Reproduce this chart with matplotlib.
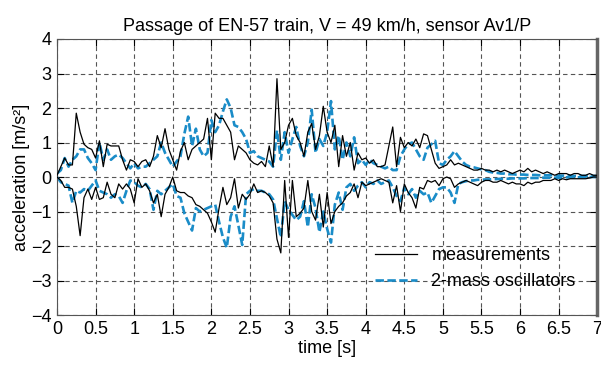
import matplotlib
matplotlib.use('Agg')
import matplotlib.pyplot as plt
import numpy as np

plt.rcParams['font.family'] = ['Liberation Sans', 'DejaVu Sans']

# sampling grid of the envelopes [s]
time = np.round(np.arange(141) * 0.05, 2)

# measurements, upper / lower envelope [m/s^2]
meas_upper = [
    0.05, 0.3, 0.55, 0.35, 0.35, 1.85, 1.3, 0.95, 0.85, 0.8,
    0.55, 1.05, 0.3, 0.95, 0.9, 0.9, 0.9, 0.5, 0.2, 0.5,
    0.45, 0.3, 0.45, 0.5, 0.3, 0.6, 1.2, 0.85, 1.4, 0.8,
    0.5, 0.2, 0.75, 1.0, 0.5, 0.8, 0.9, 1.0, 1.1, 1.7,
    0.5, 1.85, 1.7, 1.7, 1.5, 1.3, 0.5, 0.9, 0.8, 0.7,
    0.5, 0.4, 0.35, 0.45, 0.3, 0.9, 0.3, 2.85, 0.8, 1.0,
    1.5, 1.7, 1.2, 1.0, 0.6, 1.3, 1.55, 0.8, 1.2, 2.05,
    1.3, 1.0, 1.5, 0.3, 1.2, 0.6, 1.0, 0.2, 0.7, 0.5,
    0.55, 0.4, 0.5, 0.3, 0.3, 0.35, 0.9, 1.45, 0.3, 1.15,
    0.85, 1.0, 0.9, 1.1, 0.85, 1.25, 1.2, 0.8, 0.4, 0.25,
    0.3, 0.35, 0.5, 0.35, 0.4, 0.35, 0.3, 0.25, 0.2, 0.2,
    0.25, 0.2, 0.2, 0.15, 0.2, 0.15, 0.2, 0.15, 0.1, 0.15,
    0.2, 0.15, 0.25, 0.15, 0.2, 0.15, 0.1, 0.15, 0.1, 0.05,
    0.1, 0.1, 0.1, 0.05, 0.1, 0.1, 0.05, 0.05, 0.1, 0.05,
    0.05]
meas_lower = [
    0.0, -0.1, -0.3, -0.3, -0.35, -0.85, -1.7, -0.6, -0.35, -0.65,
    -0.3, -0.65, -0.6, -0.15, -0.5, -0.6, -0.2, -0.35, -0.2, -0.35,
    -0.75, -0.05, -0.3, -0.2, -0.4, -0.75, -0.5, -1.15, -0.5, -0.3,
    0.0, -0.4, -0.45, -0.45, -0.55, -0.6, -0.8, -0.85, -0.95, -1.05,
    -1.3, -1.6, -0.9, -0.3, -0.8, -0.6, -0.05, -0.9, -0.5, -0.65,
    -0.5, -0.2, -0.45, -0.4, -0.45, -0.55, -0.75, -1.8, -2.2, -0.1,
    -1.75, -0.1, -1.15, -1.05, -0.9, -0.1, -1.0, -1.25, -0.5, -1.45,
    -0.45, -1.35, -1.0, -0.85, -0.75, -0.55, -0.45, -0.2, -0.6, -0.15,
    -0.25, -0.2, -0.15, -0.1, -0.05, -0.1, -0.15, -0.75, -0.25, -1.0,
    -0.2, -0.45, -0.6, -0.9, -0.3, -0.35, -0.1, -0.15, -0.1, -0.25,
    -0.05, 0.0, -0.05, -0.3, -0.2, -0.15, -0.1, -0.15, -0.2, -0.25,
    -0.15, -0.1, -0.1, -0.15, -0.15, -0.1, -0.15, -0.2, -0.15, -0.2,
    -0.2, -0.25, -0.15, -0.2, -0.15, -0.15, -0.1, -0.1, -0.1, -0.05,
    -0.1, -0.05, -0.08, -0.05, -0.05, -0.05, -0.05, -0.05, -0.03, 0.0,
    0.0]

# 2-mass oscillators model, upper / lower envelope [m/s^2]
model_upper = [
    0.1, 0.2, 0.55, 0.3, 0.5, 0.6, 0.8, 0.8, 0.55, 0.4,
    0.2, 1.0, 0.5, 0.8, 0.5, 0.6, 0.65, 0.55, 0.4, 0.25,
    0.4, 0.25, 0.3, 0.3, 0.4, 0.5, 0.6, 1.0, 0.7, 0.5,
    0.3, 0.45, 0.6, 1.25, 1.75, 0.9, 1.4, 0.8, 0.6, 0.7,
    1.65, 1.3, 1.5, 1.9, 2.25, 2.0, 1.5, 1.45, 1.3, 1.1,
    0.7, 0.75, 0.6, 0.55, 0.5, 0.45, 0.3, 1.35, 0.5, 1.3,
    0.7, 1.1, 1.45, 0.9, 0.6, 1.0, 1.95, 0.7, 1.1, 0.9,
    1.3, 2.2, 0.8, 1.2, 0.5, 1.0, 0.6, 1.15, 0.4, 0.5,
    0.35, 0.5, 0.4, 0.35, 0.3, 0.25, 0.3, 0.2, 0.2, 0.6,
    0.8, 0.95, 1.0, 0.8, 0.6, 0.5, 0.85, 0.95, 1.05, 0.4,
    0.35, 0.5, 0.6, 0.75, 0.6, 0.45, 0.35, 0.3, 0.28, 0.25,
    0.22, 0.2, 0.15, 0.13, 0.12, 0.1, 0.1, 0.08, 0.08, 0.07,
    0.07, 0.07, 0.06, 0.06, 0.06, 0.05, 0.05, 0.05, 0.05, 0.05,
    0.04, 0.04, 0.04, 0.04, 0.03, 0.03, 0.03, 0.03, 0.03, 0.03,
    0.03]
model_lower = [
    0.0, -0.15, -0.2, -0.25, -0.75, -0.4, -0.45, -0.35, -0.4, -0.25,
    -0.1, -0.4, -0.45, -0.5, -0.6, -0.5, -0.55, -0.75, -0.4, -0.1,
    -0.15, -0.25, -0.3, -0.2, -0.35, -0.95, -0.4, -0.5, -0.4, -0.3,
    -0.2, -0.55, -0.6, -1.05, -1.3, -1.55, -0.9, -1.0, -0.95, -0.9,
    -0.85, -0.8, -1.3, -1.75, -2.05, -1.15, -0.85, -1.4, -1.97, -0.5,
    -0.4, -0.35, -0.4, -0.4, -0.45, -0.5, -0.65, -1.2, -1.75, -0.7,
    -0.95, -1.1, -1.25, -1.15, -0.7, -1.45, -0.5, -0.9, -1.6, -1.0,
    -1.5, -1.9, -0.8, -0.45, -0.95, -0.3, -0.2, -0.4, -0.25, -0.15,
    -0.3, -0.15, -0.2, -0.1, -0.2, -0.15, -0.1, -0.3, -0.55, -0.7,
    -0.3, -0.5, -0.35, -0.6, -0.4, -0.5, -0.45, -0.75, -0.55, -0.35,
    -0.3, -0.3, -0.45, -0.75, -0.2, -0.15, -0.12, -0.1, -0.1, -0.08,
    -0.08, -0.07, -0.07, -0.06, -0.06, -0.05, -0.05, -0.05, -0.04, -0.04,
    -0.04, -0.04, -0.03, -0.03, -0.03, -0.03, -0.02, -0.02, -0.02, -0.02,
    -0.02, -0.02, -0.01, -0.01, -0.01, -0.01, 0.0, 0.0, 0.0, 0.0,
    0.0]

xticks = [0, 0.5, 1, 1.5, 2, 2.5, 3, 3.5, 4, 4.5, 5, 5.5, 6, 6.5, 7]
xtick_labels = ['0', '0.5', '1', '1.5', '2', '2.5', '3', '3.5', '4', '4.5',
                '5', '5.5', '6', '6.5', '7']
yticks = [-4, -3, -2, -1, 0, 1, 2, 3, 4]

blue = '#1a8cc8'

fig = plt.figure(figsize=(6.01, 3.70), dpi=100)
ax = fig.add_axes([0.0948, 0.1486, 0.899, 0.746])

dash = (0, (3.2, 1.3))
ax.plot(time, model_upper, color=blue, lw=1.9, ls=dash, zorder=2)
ax.plot(time, model_lower, color=blue, lw=1.9, ls=dash, zorder=2)
ax.plot(time, meas_upper, color='black', lw=0.9, zorder=3, label='measurements')
ax.plot(time, meas_lower, color='black', lw=0.9, zorder=3)
ax.plot([], [], color=blue, lw=1.9, ls=dash, label='2-mass oscillators')

ax.set_xlim(0, 7)
ax.set_ylim(-4, 4)
ax.set_xticks(xticks)
ax.set_xticklabels(xtick_labels)
ax.set_yticks(yticks)
ax.grid(True, color='#555555', ls=(0, (4, 3)), lw=0.8)
ax.tick_params(direction='in', top=True, right=True, length=5, labelsize=13, pad=4)
for side in ['left', 'bottom', 'top']:
    ax.spines[side].set_color('#555555')
ax.spines['right'].set_color('#666666')
ax.spines['right'].set_linewidth(2.5)

ax.set_title('Passage of EN-57 train, V = 49 km/h, sensor Av1/P', fontsize=13, pad=6)
ax.set_xlabel('time [s]', fontsize=13, labelpad=2)
ax.set_ylabel('acceleration [m/s²]', fontsize=13, labelpad=1)

ax.legend(loc='lower right', bbox_to_anchor=(0.99, 0.03), frameon=False,
          fontsize=13, handlelength=2.3, labelspacing=0.5)

plt.savefig('out.png', dpi=100)
